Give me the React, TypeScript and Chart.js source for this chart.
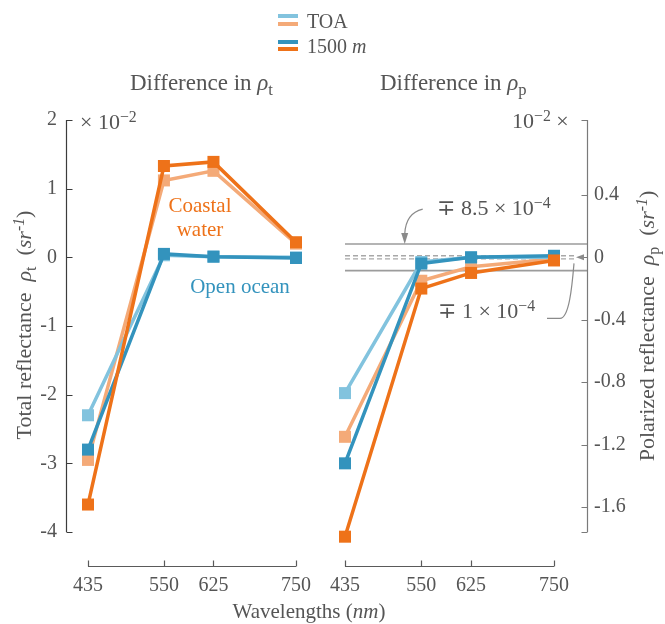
import React, { useEffect, useRef } from "react";
import { Chart, registerables } from "chart.js";

Chart.register(...registerables);

const FONT = "'Liberation Serif', 'Times New Roman', serif";
const TEXT = "#555555";
const LIGHT_BLUE = "#82c3de";
const DARK_BLUE = "#3393bd";
const LIGHT_ORANGE = "#f4aa78";
const DARK_ORANGE = "#ee7219";

// Wavelengths (nm)
const wavelengths = [435, 550, 625, 750];
const waveTicks = [435, 550, 625, 750];

// Difference in rho_t (x 10^-2)
const totalTicks = [2, 1, 0, -1, -2, -3, -4];
const totalToaOpen = [-2.3, 0.03, 0.01, 0.0];
const totalAltOpen = [-2.8, 0.05, 0.01, -0.01];
const totalToaCoastal = [-2.95, 1.12, 1.26, 0.2];
const totalAltCoastal = [-3.6, 1.33, 1.39, 0.22];

// Difference in rho_p (x 10^-2)
const polarTicks = [0.4, 0, -0.4, -0.8, -1.2, -1.6];
const polarRange = [-1.76, 0.88];
const polarToaOpen = [-0.87, -0.03, 0.0, 0.0];
const polarAltOpen = [-1.32, -0.04, 0.0, 0.01];
const polarToaCoastal = [-1.15, -0.15, -0.06, -0.01];
const polarAltCoastal = [-1.79, -0.2, -0.1, -0.02];
const bandOuter = 0.085; // 8.5e-4
const bandInner = 0.01; // 1e-4

function series(label: string, values: number[], color: string) {
  return {
    label,
    data: wavelengths.map((x, i) => ({ x, y: values[i] })),
    borderColor: color,
    backgroundColor: color,
    borderWidth: 3.5,
    pointStyle: "rect",
    pointRadius: 8.5,
    pointHoverRadius: 8.5,
    pointBorderWidth: 0,
    tension: 0,
    clip: false,
  };
}

function datasets(toaOpen: number[], altOpen: number[], toaCoastal: number[], altCoastal: number[]) {
  // first dataset is drawn on top
  return [
    series("1500 m coastal", altCoastal, DARK_ORANGE),
    series("1500 m open", altOpen, DARK_BLUE),
    series("TOA open", toaOpen, LIGHT_BLUE),
    series("TOA coastal", toaCoastal, LIGHT_ORANGE),
  ];
}

const tickFont = { family: FONT, size: 20 };

function xScale() {
  return {
    type: "linear",
    min: waveTicks[0],
    max: waveTicks[waveTicks.length - 1],
    afterBuildTicks: (s: any) => {
      s.ticks = waveTicks.map((v) => ({ value: v }));
    },
    afterFit: (s: any) => {
      s.height = 92;
      s.paddingLeft = 0;
      s.paddingRight = 0;
    },
    grid: { display: false, drawTicks: false },
    border: { display: false },
    ticks: {
      padding: 42,
      color: TEXT,
      font: tickFont,
      autoSkip: false,
      maxRotation: 0,
      callback: (v: any) => String(v),
    },
  };
}

const leftDecor = {
  id: "leftDecor",
  beforeDatasetsDraw(chart: any) {
    const { ctx, chartArea, scales } = chart;
    const x = scales.x;
    const y = scales.y;
    const sx = Math.round(chartArea.left - 22) + 0.5;
    const sy = Math.round(chartArea.bottom + 34) + 0.5;
    ctx.save();
    ctx.lineWidth = 1.2;
    ctx.strokeStyle = "#3c3c3c";
    ctx.beginPath();
    ctx.moveTo(sx, y.getPixelForValue(y.max));
    ctx.lineTo(sx, y.getPixelForValue(y.min));
    totalTicks.forEach((v) => {
      const py = Math.round(y.getPixelForValue(v)) + 0.5;
      ctx.moveTo(sx, py);
      ctx.lineTo(sx + 6, py);
    });
    ctx.stroke();
    ctx.strokeStyle = "#5a5a5a";
    ctx.beginPath();
    ctx.moveTo(x.getPixelForValue(waveTicks[0]), sy);
    ctx.lineTo(x.getPixelForValue(waveTicks[waveTicks.length - 1]), sy);
    waveTicks.forEach((v) => {
      const px = Math.round(x.getPixelForValue(v)) + 0.5;
      ctx.moveTo(px, sy);
      ctx.lineTo(px, sy - 6);
    });
    ctx.stroke();
    ctx.restore();
  },
};

const rightDecor = {
  id: "rightDecor",
  beforeDatasetsDraw(chart: any) {
    const { ctx, chartArea, scales } = chart;
    const x = scales.x;
    const y = scales.y;
    const sx = Math.round(chartArea.right + 33) + 0.5;
    const sy = Math.round(chartArea.bottom + 34) + 0.5;
    ctx.save();
    // reference bands
    ctx.lineWidth = 1.6;
    ctx.strokeStyle = "#9c9c9c";
    ctx.beginPath();
    [bandOuter, -bandOuter].forEach((v) => {
      const py = y.getPixelForValue(v);
      ctx.moveTo(chartArea.left, py);
      ctx.lineTo(sx, py);
    });
    ctx.stroke();
    ctx.lineWidth = 1.3;
    ctx.strokeStyle = "#a8a8a8";
    ctx.setLineDash([5, 3]);
    ctx.beginPath();
    [bandInner, -bandInner].forEach((v) => {
      const py = y.getPixelForValue(v);
      ctx.moveTo(chartArea.left, py);
      ctx.lineTo(sx - 12, py);
    });
    ctx.stroke();
    ctx.setLineDash([]);
    // right spine
    ctx.lineWidth = 1.2;
    ctx.strokeStyle = "#7a7a7a";
    ctx.beginPath();
    ctx.moveTo(sx, y.getPixelForValue(y.max));
    ctx.lineTo(sx, y.getPixelForValue(y.min));
    [...polarTicks, y.max, y.min].forEach((v) => {
      const py = Math.round(y.getPixelForValue(v)) + 0.5;
      ctx.moveTo(sx, py);
      ctx.lineTo(sx - 6, py);
    });
    ctx.stroke();
    // bottom spine
    ctx.strokeStyle = "#5a5a5a";
    ctx.beginPath();
    ctx.moveTo(x.getPixelForValue(waveTicks[0]), sy);
    ctx.lineTo(x.getPixelForValue(waveTicks[waveTicks.length - 1]), sy);
    waveTicks.forEach((v) => {
      const px = Math.round(x.getPixelForValue(v)) + 0.5;
      ctx.moveTo(px, sy);
      ctx.lineTo(px, sy - 6);
    });
    ctx.stroke();
    ctx.restore();
  },
  afterDatasetsDraw(chart: any) {
    const { ctx, chartArea, scales } = chart;
    const x = scales.x;
    const y = scales.y;
    const sx = chartArea.right + 33;
    ctx.save();
    ctx.strokeStyle = "#8a8a8a";
    ctx.fillStyle = "#8a8a8a";
    ctx.lineWidth = 1.2;
    // arrow to the outer band
    const t1x = x.getPixelForValue(525);
    const t1y = y.getPixelForValue(bandOuter);
    ctx.beginPath();
    ctx.moveTo(t1x + 18, t1y - 35);
    ctx.quadraticCurveTo(t1x + 1, t1y - 31, t1x, t1y - 10);
    ctx.stroke();
    ctx.beginPath();
    ctx.moveTo(t1x, t1y);
    ctx.lineTo(t1x - 3.5, t1y - 11);
    ctx.lineTo(t1x + 3.5, t1y - 11);
    ctx.closePath();
    ctx.fill();
    // arrow to the inner band
    const ax = sx - 10;
    const ay = y.getPixelForValue(0);
    ctx.beginPath();
    ctx.moveTo(ax - 30, ay + 61);
    ctx.lineTo(ax - 17, ay + 61);
    ctx.bezierCurveTo(ax - 8, ay + 61, ax - 5, ay + 30, ax - 3, ay + 6);
    ctx.stroke();
    ctx.beginPath();
    ctx.moveTo(ax - 1, ay);
    ctx.lineTo(ax + 7, ay - 3);
    ctx.lineTo(ax + 7, ay + 3);
    ctx.closePath();
    ctx.fill();
    ctx.restore();
  },
};

const Sup = ({ children }: { children: React.ReactNode }) => (
  <span style={{ fontSize: "0.72em", position: "relative", top: "-0.45em" }}>{children}</span>
);
const Sub = ({ children }: { children: React.ReactNode }) => (
  <span style={{ fontSize: "0.72em", position: "relative", top: "0.3em" }}>{children}</span>
);
const MinusPlus = () => <span style={{ fontFamily: "'DejaVu Serif', serif", fontWeight: 300 }}>∓</span>;

function abs(left: number, top: number, size: number, extra: React.CSSProperties = {}): React.CSSProperties {
  return {
    position: "absolute",
    left,
    top,
    fontSize: size,
    lineHeight: size + "px",
    whiteSpace: "nowrap",
    ...extra,
  };
}

export default function App() {
  const leftRef = useRef<HTMLCanvasElement>(null);
  const rightRef = useRef<HTMLCanvasElement>(null);

  useEffect(() => {
    const left = new Chart(leftRef.current as HTMLCanvasElement, {
      type: "line",
      data: { datasets: datasets(totalToaOpen, totalAltOpen, totalToaCoastal, totalAltCoastal) as any },
      options: {
        animation: false,
        responsive: false,
        events: [],
        layout: { padding: { left: 0, right: 34, top: 120, bottom: 0 } },
        plugins: { legend: { display: false }, tooltip: { enabled: false } },
        scales: {
          x: xScale() as any,
          y: {
            type: "linear",
            min: totalTicks[totalTicks.length - 1],
            max: totalTicks[0],
            afterBuildTicks: (s: any) => {
              s.ticks = totalTicks.map((v) => ({ value: v }));
            },
            afterFit: (s: any) => {
              s.width = 88;
              s.paddingTop = 0;
              s.paddingBottom = 0;
            },
            grid: { display: false, drawTicks: false },
            border: { display: false },
            ticks: { padding: 31, color: TEXT, font: tickFont, autoSkip: false, callback: (v: any) => String(v) },
          },
        },
      },
      plugins: [leftDecor],
    });

    const right = new Chart(rightRef.current as HTMLCanvasElement, {
      type: "line",
      data: { datasets: datasets(polarToaOpen, polarAltOpen, polarToaCoastal, polarAltCoastal) as any },
      options: {
        animation: false,
        responsive: false,
        events: [],
        layout: { padding: { left: 45, right: 0, top: 120, bottom: 0 } },
        plugins: { legend: { display: false }, tooltip: { enabled: false } },
        scales: {
          x: xScale() as any,
          y: {
            type: "linear",
            position: "right",
            min: polarRange[0],
            max: polarRange[1],
            afterBuildTicks: (s: any) => {
              s.ticks = polarTicks.map((v) => ({ value: v }));
            },
            afterFit: (s: any) => {
              s.width = 111;
              s.paddingTop = 0;
              s.paddingBottom = 0;
            },
            grid: { display: false, drawTicks: false },
            border: { display: false },
            ticks: {
              padding: 40,
              color: TEXT,
              font: tickFont,
              autoSkip: false,
              callback: (v: any) => String(parseFloat(Number(v).toFixed(2))),
            },
          },
        },
      },
      plugins: [rightDecor],
    });

    return () => {
      left.destroy();
      right.destroy();
    };
  }, []);

  return (
    <div
      style={{
        position: "absolute",
        left: 0,
        top: 0,
        width: 665,
        height: 624,
        background: "#ffffff",
        fontFamily: FONT,
        color: TEXT,
        overflow: "hidden",
      }}
    >
      <canvas ref={leftRef} width={330} height={624} style={{ position: "absolute", left: 0, top: 0, width: 330, height: 624 }} />
      <canvas ref={rightRef} width={365} height={624} style={{ position: "absolute", left: 300, top: 0, width: 365, height: 624 }} />

      {/* legend */}
      <div style={{ position: "absolute", left: 278, top: 14.25, width: 20, height: 3.5, background: LIGHT_BLUE }} />
      <div style={{ position: "absolute", left: 278, top: 22.25, width: 20, height: 3.5, background: LIGHT_ORANGE }} />
      <div style={{ position: "absolute", left: 278, top: 40.25, width: 20, height: 3.5, background: DARK_BLUE }} />
      <div style={{ position: "absolute", left: 278, top: 47.25, width: 20, height: 3.5, background: DARK_ORANGE }} />
      <div style={abs(307, 11, 20)}>TOA</div>
      <div style={abs(307, 36, 20)}>
        1500 <i>m</i>
      </div>

      {/* titles */}
      <div style={abs(130, 71, 23)}>
        Difference in <i>ρ</i>
        <Sub>t</Sub>
      </div>
      <div style={abs(380, 71, 23)}>
        Difference in <i>ρ</i>
        <Sub>p</Sub>
      </div>

      {/* exponent notes */}
      <div style={abs(80, 111, 22)}>
        × 10<Sup>−2</Sup>
      </div>
      <div style={abs(512, 110, 22)}>
        10<Sup>−2</Sup> ×
      </div>

      {/* axis titles */}
      <div
        style={abs(24 - 200, 325 - 13, 22, {
          width: 400,
          height: 26,
          lineHeight: "26px",
          textAlign: "center",
          transform: "rotate(-90deg)",
        })}
      >
        Total reflectance&nbsp;&nbsp;<i>ρ</i>
        <Sub>t</Sub>&nbsp;&nbsp;(<i>sr</i>
        <Sup>
          <i>-1</i>
        </Sup>
        )
      </div>
      <div
        style={abs(647 - 200, 326 - 13, 22, {
          width: 400,
          height: 26,
          lineHeight: "26px",
          textAlign: "center",
          transform: "rotate(-90deg)",
        })}
      >
        Polarized reflectance&nbsp;&nbsp;<i>ρ</i>
        <Sub>p</Sub>&nbsp;&nbsp;(<i>sr</i>
        <Sup>
          <i>-1</i>
        </Sup>
        )
      </div>
      <div style={abs(159, 601, 21, { width: 300, textAlign: "center" })}>
        Wavelengths (<i>nm</i>)
      </div>

      {/* in-plot labels */}
      <div style={abs(140, 193, 21, { width: 120, textAlign: "center", lineHeight: "24px", color: DARK_ORANGE })}>
        Coastal
        <br />
        water
      </div>
      <div style={abs(180, 274, 21, { width: 120, textAlign: "center", lineHeight: "24px", color: DARK_BLUE })}>
        Open ocean
      </div>

      {/* band annotations */}
      <div style={abs(437, 196, 22, { lineHeight: "24px" })}>
        <MinusPlus /> 8.5 × 10<Sup>−4</Sup>
      </div>
      <div style={abs(438, 299, 22, { lineHeight: "24px" })}>
        <MinusPlus /> 1 × 10<Sup>−4</Sup>
      </div>
    </div>
  );
}
